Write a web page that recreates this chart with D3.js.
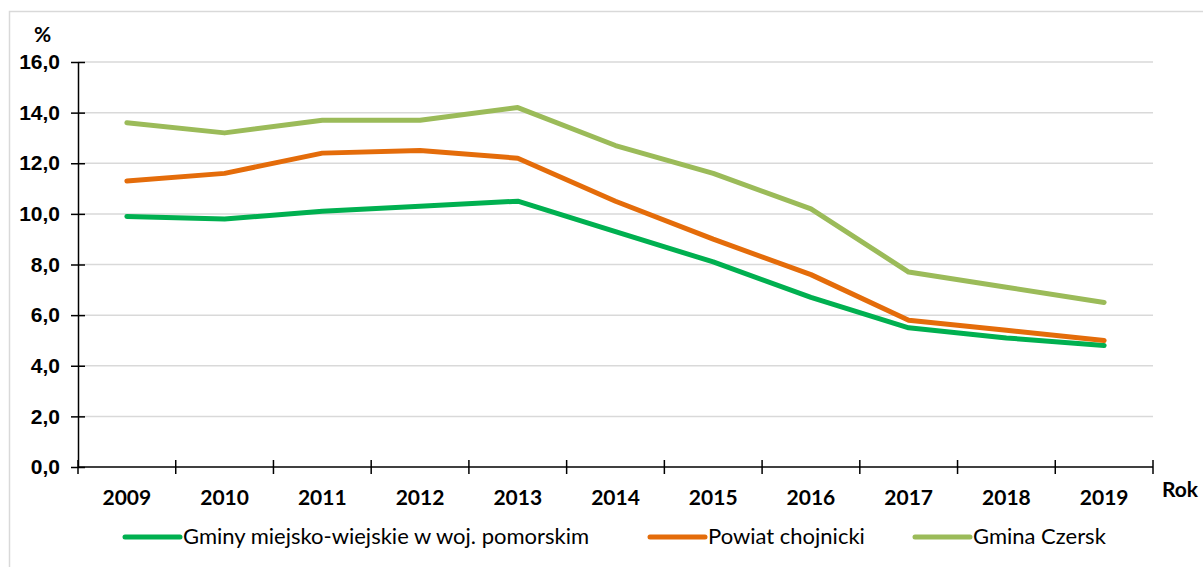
<!DOCTYPE html>
<html>
<head>
<meta charset="utf-8">
<script src="https://cdn.jsdelivr.net/npm/d3@7"></script>
<style>
  body { margin: 0; background: #fff; }
  svg { display: block; font-family: Lato, "Open Sans", sans-serif; }
</style>
</head>
<body>
<svg id="chart" width="1203" height="567"></svg>
<script>
// --- data ---
const years = ["2009", "2010", "2011", "2012", "2013", "2014", "2015", "2016", "2017", "2018", "2019"];
const gminyMW = [9.9, 9.8, 10.1, 10.3, 10.5, 9.3, 8.1, 6.7, 5.5, 5.1, 4.8];
const powiatChojnicki = [11.3, 11.6, 12.4, 12.5, 12.2, 10.5, 9.0, 7.6, 5.8, 5.4, 5.0];
const gminaCzersk = [13.6, 13.2, 13.7, 13.7, 14.2, 12.7, 11.6, 10.2, 7.7, 7.1, 6.5];
const yTicks = [0, 2, 4, 6, 8, 10, 12, 14, 16];

const series = [
  { name: "Gminy miejsko-wiejskie w woj. pomorskim", values: gminyMW, color: "#00b050" },
  { name: "Powiat chojnicki", values: powiatChojnicki, color: "#e46c0a" },
  { name: "Gmina Czersk", values: gminaCzersk, color: "#9bbb59" }
];

const svg = d3.select("#chart");
const margin = { left: 78, right: 50, top: 62, bottom: 100 };
const width = 1203, height = 567;
const tickFont = "21px";

// outer chart border
svg.append("rect")
  .attr("x", 9.5).attr("y", 11.5)
  .attr("width", 1200).attr("height", 560)
  .attr("fill", "none").attr("stroke", "#d9d9d9").attr("stroke-width", 1.5);

const x = d3.scaleBand().domain(years).range([margin.left, width - margin.right]);
const y = d3.scaleLinear().domain([0, 16]).range([height - margin.bottom, margin.top]);

// gridlines
svg.append("g")
  .selectAll("line")
  .data(yTicks.filter(d => d > 0))
  .join("line")
    .attr("x1", margin.left).attr("x2", width - margin.right)
    .attr("y1", d => y(d)).attr("y2", d => y(d))
    .attr("stroke", "#d9d9d9").attr("stroke-width", 1.5);

// y axis
const fmt = d => d.toFixed(1).replace(".", ",");
const yAxis = svg.append("g")
  .attr("transform", `translate(${margin.left},0)`)
  .call(d3.axisLeft(y).tickValues(yTicks).tickFormat(fmt).tickSize(7).tickSizeOuter(0));
yAxis.selectAll(".tick line").attr("x2", 7).attr("x1", -7);
yAxis.selectAll("line, path").attr("stroke", "#000").attr("stroke-width", 1.5);
yAxis.selectAll("text")
  .attr("x", -18)
  .style("font-size", tickFont).style("font-weight", "bold").attr("fill", "#000");

// x axis with ticks at band boundaries
const xAxis = svg.append("g")
  .attr("transform", `translate(0,${y(0)})`);
xAxis.append("line")
  .attr("x1", margin.left).attr("x2", width - margin.right)
  .attr("stroke", "#000").attr("stroke-width", 1.5);
const boundaries = years.map(d => x(d)).concat([x(years[years.length - 1]) + x.bandwidth()]);
xAxis.selectAll(".xt")
  .data(boundaries)
  .join("line")
    .attr("x1", d => d).attr("x2", d => d)
    .attr("y1", -7).attr("y2", 7)
    .attr("stroke", "#000").attr("stroke-width", 1.5);
xAxis.selectAll("text")
  .data(years)
  .join("text")
    .attr("x", d => x(d) + x.bandwidth() / 2)
    .attr("y", 38)
    .attr("text-anchor", "middle")
    .style("font-size", tickFont).style("font-weight", "bold")
    .text(d => d);

// axis titles
svg.append("text").attr("x", 34).attr("y", 42)
  .style("font-size", tickFont).style("font-weight", "bold").text("%");
svg.append("text").attr("x", 1162).attr("y", 497)
  .style("font-size", tickFont).style("font-weight", "bold").text("Rok");

// lines
const line = d3.line()
  .x((d, i) => x(years[i]) + x.bandwidth() / 2)
  .y(d => y(d));

svg.append("g")
  .selectAll("path")
  .data(series)
  .join("path")
    .attr("d", d => line(d.values))
    .attr("fill", "none")
    .attr("stroke", d => d.color)
    .attr("stroke-width", 5)
    .attr("stroke-linecap", "round")
    .attr("stroke-linejoin", "round");

// legend
const legendX = [125, 650, 915];
const legend = svg.append("g").attr("transform", "translate(0,537)");
const items = legend.selectAll("g")
  .data(series)
  .join("g")
    .attr("transform", (d, i) => `translate(${legendX[i]},0)`);
items.append("line")
  .attr("x1", 0).attr("x2", 55)
  .attr("stroke", d => d.color).attr("stroke-width", 5).attr("stroke-linecap", "round");
items.append("text")
  .attr("x", 58).attr("y", 7)
  .style("font-size", "22px")
  .text(d => d.name);
</script>
</body>
</html>
